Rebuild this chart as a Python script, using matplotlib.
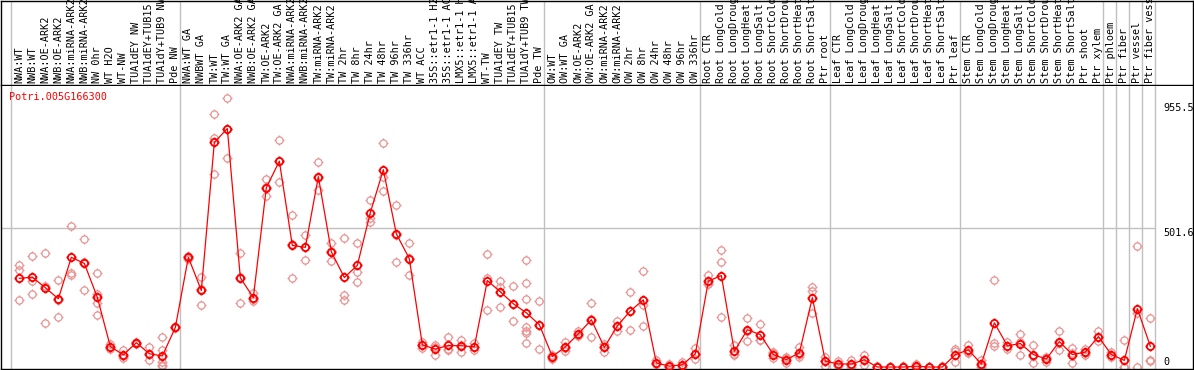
"""Expression profile of Potri.005G166300 across sample groups."""

import matplotlib
matplotlib.use("Agg")
import matplotlib.pyplot as plt
from matplotlib.path import Path

RED = "#ff0000"
PINK = "#e99494"
GRID = "#c0c0c0"

plt.rcParams.update({
    "font.family": "DejaVu Sans Mono",
    "font.size": 7.3,
})

GENE = "Potri.005G166300"

labels = [
    "NWA:WT", "NWB:WT", "NWA:OE-ARK2", "NWB:OE-ARK2", "NWA:miRNA-ARK2", "NWB:miRNA-ARK2",
    "NW 0hr", "WT H2O", "WT-NW", "TUA1dEY NW", "TUA1dEY+TUB15 NW", "TUA1dY+TUB9 NW", "Pde NW",
    "NWA:WT GA", "NWBWT GA", "TW:WT", "TW:WT GA", "NWA:OE-ARK2 GA", "NWB:OE-ARK2 GA",
    "TW:OE-ARK2", "TW:OE-ARK2 GA", "NWA:miRNA-ARK2 GA", "NWB:miRNA-ARK2 GA", "TW:miRNA-ARK2",
    "TW:miRNA-ARK2", "TW 2hr", "TW 8hr", "TW 24hr", "TW 48hr", "TW 96hr", "TW 336hr", "WT ACC",
    "35S::etr1-1 H2O", "35S::etr1-1 ACC", "LMX5::etr1-1 H2O", "LMX5::etr1-1 ACC", "WT-TW",
    "TUA1dEY TW", "TUA1dEY+TUB15 TW", "TUA1dY+TUB9 TW", "Pde TW",
    "OW:WT", "OW:WT GA", "OW:OE-ARK2", "OW:OE-ARK2 GA", "OW:miRNA-ARK2", "OW:miRNA-ARK2",
    "OW 2hr", "OW 8hr", "OW 24hr", "OW 48hr", "OW 96hr", "OW 336hr",
    "Root CTR", "Root LongCold", "Root LongDrought", "Root LongHeat", "Root LongSalt",
    "Root ShortCold", "Root ShortDrought", "Root ShortHeat", "Root ShortSalt", "Ptr root",
    "Leaf CTR", "Leaf LongCold", "Leaf LongDrought", "Leaf LongHeat", "Leaf LongSalt",
    "Leaf ShortCold", "Leaf ShortDrought", "Leaf ShortHeat", "Leaf ShortSalt", "Ptr leaf",
    "Stem CTR", "Stem LongCold", "Stem LongDrought", "Stem LongHeat", "Stem LongSalt",
    "Stem ShortCold", "Stem ShortDrought", "Stem ShortHeat", "Stem ShortSalt", "Ptr shoot",
    "Ptr xylem", "Ptr phloem", "Ptr fiber", "Ptr vessel", "Ptr fiber vessel",
]

means = [
    321, 325, 287, 247, 397, 375, 252, 74, 44, 88, 48, 40, 143,
    397, 277, 813, 863, 323, 251, 649, 745, 440, 433, 689, 417, 324, 368, 559, 714,
    482, 392, 80, 65, 78, 77, 73, 313, 272, 229, 196, 153,
    38, 73, 120, 171, 71, 149, 203, 243, 15, 3, 8, 48,
    311, 331, 57, 135, 117, 45, 27, 51, 251, 21,
    11, 11, 26, 0, 0, 0, 3, 0, 0, 45,
    62, 11, 160, 77, 85, 45, 29, 92, 45, 54, 110,
    45, 24, 211, 75,
]

replicates = [
    [368, 352, 241], [402, 263, 310], [411, 158, 292], [316, 182, 243],
    [511, 340, 334], [464, 280, 381], [339, 265, 231, 189], [84, 65, 73],
    [62, 31, 39], [92, 82, 88], [72, 26, 46], [110, 60, 17, 9, 5], [145, 141, 143],
    [402, 392, 397], [324, 226, 281], [914, 830, 700], [972, 758, 860],
    [411, 232, 326], [269, 238, 246], [679, 618, 650], [823, 668, 745],
    [551, 323, 446], [476, 388, 435], [743, 639, 685], [447, 383, 421],
    [468, 259, 243], [447, 344, 309], [603, 540, 526], [809, 688, 638],
    [588, 381, 477], [449, 334, 393], [92, 68, 80], [78, 44, 73],
    [110, 60, 64], [98, 54, 79], [86, 62, 71], [408, 208, 322],
    [310, 218, 288], [292, 168, 227], [388, 305, 247, 144, 132, 124, 88], [240, 66, 153],
    [45, 30, 39], [92, 57, 70], [130, 114, 116], [232, 109, 172],
    [85, 55, 73], [168, 130, 149], [272, 135, 202], [348, 226, 149],
    [24, 11, 10], [11, 0, 0], [17, 0, 7], [68, 30, 46],
    [334, 299, 300], [424, 381, 181], [78, 45, 48], [178, 95, 132], [156, 96, 99],
    [54, 32, 49], [36, 14, 31], [72, 36, 45], [289, 275, 196], [38, 4, 21],
    [20, 5, 8], [26, 0, 7], [45, 8, 25], [0, 0, 2], [0, 0, 0],
    [5, 0, 0], [11, 0, 0], [0, 0, 0], [5, 0, 0], [66, 57, 17],
    [80, 50, 56], [26, 0, 7], [316, 88, 76], [89, 66, 76], [120, 44, 91],
    [80, 15, 40], [36, 17, 34], [129, 60, 87], [70, 15, 50], [66, 45, 51], [129, 94, 107],
    [54, 36, 45], [97, 0, 0], [437, 0, 196], [177, 26, 21],
]

# first column of each group, plus the single-sample Ptr tissues
group_starts = [0, 13, 41, 53, 63, 73, 84, 85, 86, 87, 88]
y_ticks = [955.5, 501.6, 0]


def ring_marker():
    ring = Path.unit_circle()
    ticks = [Path([(0, 1), (0, 1.4)]), Path([(0, -1), (0, -1.4)]),
             Path([(1, 0), (1.4, 0)]), Path([(-1, 0), (-1.4, 0)])]
    return Path.make_compound_path(ring, *ticks)


W, H = 1194, 370
fig = plt.figure(figsize=(W / 100, H / 100), dpi=100)
x_lim = (-1.41, 90.28)

lab = fig.add_axes([1 / W, (H - 85) / H, 1192 / W, 84.5 / H])
ax = fig.add_axes([1 / W, 1 / H, 1192 / W, 283 / H])

for a in (lab, ax):
    a.set_xlim(*x_lim)
    a.set_xticks([])
    a.set_yticks([])
    for s in a.spines.values():
        s.set_color("black")
        s.set_linewidth(1.0)
    for g in group_starts:
        a.axvline(g - 0.615, color=GRID, linewidth=1.0, zorder=0)
ax.spines["top"].set_visible(False)
lab.set_ylim(0, 1)

for i, name in enumerate(labels):
    lab.text(i, 0.025, name, rotation=90, ha="center", va="bottom",
             fontsize=7.3, color="black", clip_on=False)

ax.set_ylim(-7.2, 1017)
ax.plot([x_lim[0], group_starts[-1] - 0.615], [y_ticks[1], y_ticks[1]],
        color=GRID, linewidth=1.0, zorder=0)

marker = ring_marker()
xs = list(range(len(means)))
for i, reps in enumerate(replicates):
    ax.plot([i] * len(reps), reps, linestyle="none", marker=marker, markersize=7.2,
            markerfacecolor="none", markeredgecolor=PINK, markeredgewidth=0.9,
            zorder=2, clip_on=True)
ax.plot(xs, means, color=RED, linewidth=0.9, zorder=3)
ax.plot(xs, means, linestyle="none", marker=marker, markersize=7.2,
        markerfacecolor="none", markeredgecolor=RED, markeredgewidth=1.3, zorder=4)

ax.text(0.007, 0.978, GENE, transform=ax.transAxes, ha="left", va="top", color=RED)
tick_x = (1163 - 1) / 1192
ax.text(tick_x, y_ticks[0], f"{y_ticks[0]:.1f}", transform=ax.get_yaxis_transform(),
        ha="left", va="top")
ax.text(tick_x, y_ticks[1], f"{y_ticks[1]:.1f}", transform=ax.get_yaxis_transform(),
        ha="left", va="top")
ax.text(tick_x, y_ticks[2], f"{y_ticks[2]:g}", transform=ax.get_yaxis_transform(),
        ha="left", va="bottom")

fig.savefig("out.png", dpi=100)
